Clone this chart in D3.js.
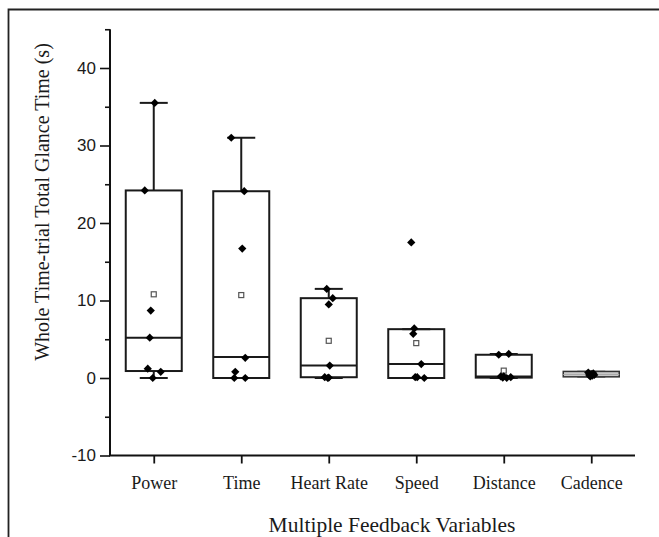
<!DOCTYPE html>
<html>
<head>
<meta charset="utf-8">
<script src="https://cdn.jsdelivr.net/npm/d3@7"></script>
<style>
  body { margin: 0; background: #fff; }
  svg { display: block; }
</style>
</head>
<body>
<div id="chart-area"></div>
<script>

const categories = ['Power', 'Time', 'Heart Rate', 'Speed', 'Distance', 'Cadence']

// box stats: lower whisker, q1, median, q3, upper whisker, mean
const whiskerLow  = [0.0, 0.0, 0.0, 0.0, 0.0, 0.2]
const q1          = [0.9, 0.0, 0.1, 0.0, 0.05, 0.15]
const medians     = [5.2, 2.7, 1.6, 1.8, 0.2, 0.45]
const q3          = [24.2, 24.1, 10.3, 6.3, 3.0, 0.85]
const whiskerHigh = [35.5, 31.0, 11.5, 6.3, 3.1, 0.8]
const means       = [10.8, 10.7, 4.8, 4.5, 0.95, 0.45]

// individual observations per category
const points = [
    [35.5, 24.2, 8.7, 5.2, 1.2, 0.8, 0.0],
    [31.0, 24.1, 16.7, 2.6, 0.8, 0.0, 0.0],
    [11.5, 10.3, 9.5, 1.6, 0.1, 0.05, 0.0],
    [17.5, 6.4, 5.7, 1.8, 0.1, 0.1, 0.0],
    [3.1, 3.0, 0.2, 0.2, 0.1, 0.05, 0.0],
    [0.7, 0.6, 0.5, 0.4, 0.4, 0.3, 0.2]
]
// horizontal jitter of the points, in px
const jitter = [
    [1, -9, -3, -4, -6, 7, -1],
    [-10, 3, 1, 4, -6, -7, 4],
    [-2, 4, 0, 1, -4, 0, -1],
    [-5, -2, -3, 5, -1, 1, 8],
    [5, -5, -3, 0, 7, -1, 3],
    [-3, 2, 0, -2, 3, 1, -1]
]

const yMajor = [-10, 0, 10, 20, 30, 40]
const yMinor = [-5, 5, 15, 25, 35, 45]

const W = 659, H = 537
const LEFT = 110, RIGHT = 635, TOP = 29.25, BOTTOM = 455.5
const BOX_W = 56, CAP_W = 28

const svg = d3.select('#chart-area').append('svg')
    .attr('width', W)
    .attr('height', H)

// outer frame (top + left)
svg.append('path')
    .attr('d', `M8.5,${H} V9.5 H${W}`)
    .attr('fill', 'none')
    .attr('stroke', '#222')
    .attr('stroke-width', 1.8)

const x = d3.scalePoint()
    .domain(categories)
    .range([LEFT, RIGHT])
    .padding(0.5)

const y = d3.scaleLinear()
    .domain([-10, 45])
    .range([BOTTOM, TOP])

// y axis
const yAxis = svg.append('g')
    .attr('transform', `translate(${LEFT}, 0)`)
    .call(d3.axisLeft(y).tickValues(yMajor).tickSize(10).tickPadding(4)
        .tickFormat(d => String(d)))
yAxis.select('.domain').remove()
yAxis.selectAll('line').attr('stroke', '#111').attr('stroke-width', 1.6)
yAxis.selectAll('text')
    .attr('font-family', 'Liberation Sans, Arial, sans-serif')
    .attr('font-size', '17px')
    .attr('fill', '#1a1a1a')

const yMinorAxis = svg.append('g')
    .attr('transform', `translate(${LEFT}, 0)`)
    .call(d3.axisLeft(y).tickValues(yMinor).tickSize(5).tickFormat(''))
yMinorAxis.select('.domain').remove()
yMinorAxis.selectAll('line').attr('stroke', '#111').attr('stroke-width', 1.6)

// x axis
const xAxis = svg.append('g')
    .attr('transform', `translate(0, ${BOTTOM})`)
    .call(d3.axisBottom(x).tickSize(8).tickPadding(13))
xAxis.select('.domain').remove()
xAxis.selectAll('line').attr('stroke', '#111').attr('stroke-width', 1.8)
xAxis.selectAll('text')
    .attr('font-family', 'Liberation Serif, Times New Roman, serif')
    .attr('font-size', '18px')
    .attr('fill', '#1a1a1a')

// axis lines
svg.append('path')
    .attr('d', `M${LEFT},${TOP} V${BOTTOM} H${RIGHT}`)
    .attr('fill', 'none')
    .attr('stroke', '#111')
    .attr('stroke-width', 2)

// axis titles
svg.append('text')
    .attr('x', 392)
    .attr('y', 532)
    .attr('text-anchor', 'middle')
    .attr('font-family', 'Liberation Serif, Times New Roman, serif')
    .attr('font-size', '21.5px')
    .attr('fill', '#1a1a1a')
    .text('Multiple Feedback Variables')

svg.append('text')
    .attr('transform', 'translate(49, 202) rotate(-90)')
    .attr('text-anchor', 'middle')
    .attr('font-family', 'Liberation Serif, Times New Roman, serif')
    .attr('font-size', '20px')
    .attr('fill', '#1a1a1a')
    .text('Whole Time-trial Total Glance Time (s)')

// boxes
const boxes = svg.append('g')
    .selectAll('g')
    .data(categories)
    .enter().append('g')

const stroke = '#1a1a1a'

boxes.append('line')
    .attr('x1', d => x(d)).attr('x2', d => x(d))
    .attr('y1', (d, i) => y(q3[i])).attr('y2', (d, i) => y(whiskerHigh[i]))
    .attr('stroke', stroke).attr('stroke-width', 2)

boxes.append('line')
    .attr('x1', d => x(d)).attr('x2', d => x(d))
    .attr('y1', (d, i) => y(q1[i])).attr('y2', (d, i) => y(whiskerLow[i]))
    .attr('stroke', stroke).attr('stroke-width', 2)

boxes.append('line')
    .attr('x1', d => x(d) - CAP_W / 2).attr('x2', d => x(d) + CAP_W / 2)
    .attr('y1', (d, i) => y(whiskerHigh[i])).attr('y2', (d, i) => y(whiskerHigh[i]))
    .attr('stroke', stroke).attr('stroke-width', 2)

boxes.append('line')
    .attr('x1', d => x(d) - CAP_W / 2).attr('x2', d => x(d) + CAP_W / 2)
    .attr('y1', (d, i) => y(whiskerLow[i])).attr('y2', (d, i) => y(whiskerLow[i]))
    .attr('stroke', stroke).attr('stroke-width', 2)

boxes.append('rect')
    .attr('x', d => x(d) - BOX_W / 2)
    .attr('width', BOX_W)
    .attr('y', (d, i) => y(q3[i]))
    .attr('height', (d, i) => y(q1[i]) - y(q3[i]))
    .attr('fill', (d, i) => i === 5 ? '#c8c8c8' : 'none')
    .attr('stroke', (d, i) => i === 5 ? '#333' : stroke)
    .attr('stroke-width', (d, i) => i === 5 ? 1.5 : 2)

boxes.append('line')
    .attr('x1', d => x(d) - BOX_W / 2).attr('x2', d => x(d) + BOX_W / 2)
    .attr('y1', (d, i) => y(medians[i])).attr('y2', (d, i) => y(medians[i]))
    .attr('stroke', (d, i) => i === 5 ? '#aaa' : stroke)
    .attr('stroke-width', (d, i) => i === 5 ? 1 : 2)

// mean markers
boxes.append('rect')
    .attr('x', d => x(d) - 2.5)
    .attr('y', (d, i) => y(means[i]) - 2.5)
    .attr('width', 5).attr('height', 5)
    .attr('fill', '#fff')
    .attr('stroke', '#555')
    .attr('stroke-width', 1.2)

// data points
const diamond = d3.symbol().type(d3.symbolSquare).size(34)

boxes.each(function (cat, i) {
    d3.select(this).selectAll('path.pt')
        .data(points[i])
        .enter().append('path')
        .attr('class', 'pt')
        .attr('d', diamond)
        .attr('transform', (v, j) => `translate(${x(cat) + jitter[i][j]}, ${y(v)}) rotate(45)`)
        .attr('fill', '#000')
})

</script>
</body>
</html>
